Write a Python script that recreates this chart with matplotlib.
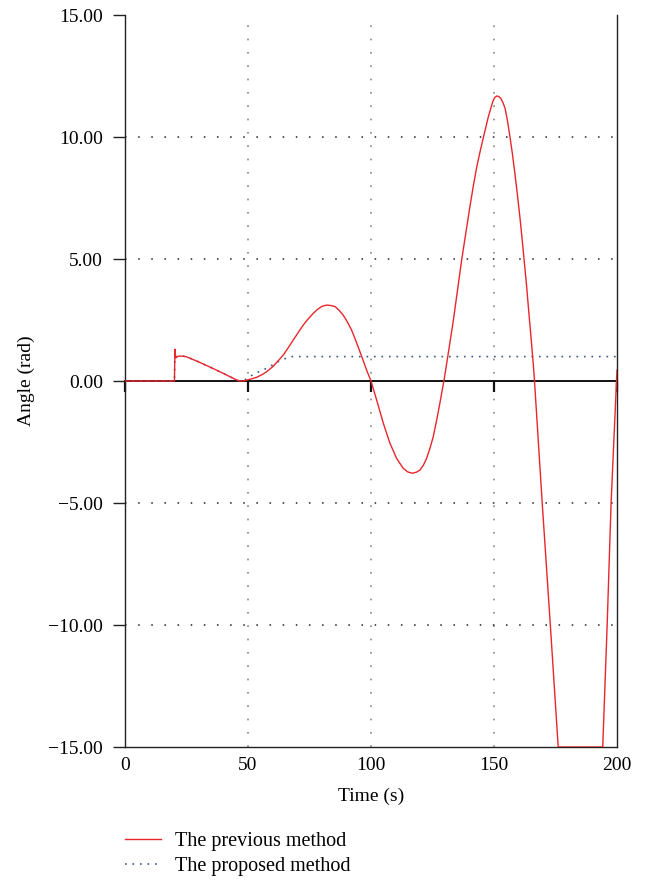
import matplotlib
matplotlib.use("Agg")
import matplotlib.pyplot as plt

# ---------------- data ----------------
prev_t = [0, 20.1, 20.3, 20.6, 21.2, 22, 23.5, 25, 26.5, 30, 35, 40, 45, 46.5, 48, 49.5,
          51.5, 53.5, 55.5, 57.6, 60.3, 62.3, 64.4, 66.4, 68.4, 70.5, 72.5, 74.5, 76.5,
          78.2, 79.9, 81, 82.2, 83.8, 85.4, 87, 88.7, 90.4, 92.1, 93.8, 95.5, 96.9, 98.2,
          100, 102.3, 105, 107.7, 110.4, 113.1, 115, 116.8, 118.4, 119.9, 121.3, 122.6,
          124, 125.3, 126.7, 128, 129.7, 131.2, 133.5, 135.2, 136.9, 138.6, 140.2, 141.6,
          143.0, 144.4, 145.7, 147.7, 149.5, 150.3, 151.1, 151.9, 152.7, 153.6, 154.5,
          155.5, 156.5, 157.5, 158.5, 159.5, 160.6, 161.5, 162.3, 163.2, 164.0, 165.0,
          166.0, 166.4, 169.6, 172.9, 176.1, 194.2, 196.0, 197.6, 200]
prev_v = [0, 0, 1.3, 0.95, 1.0, 1.02, 1.02, 0.99, 0.93, 0.78, 0.55, 0.31, 0.06, 0.0, 0.0, 0.04,
          0.09, 0.15, 0.25, 0.38, 0.61, 0.83, 1.07, 1.37, 1.68, 2.0, 2.3, 2.55, 2.77,
          2.93, 3.05, 3.09, 3.11, 3.09, 3.05, 2.9, 2.7, 2.42, 2.09, 1.66, 1.2, 0.82, 0.45,
          0.0, -0.78, -1.73, -2.55, -3.17, -3.58, -3.73, -3.78, -3.74, -3.65, -3.45, -3.17,
          -2.75, -2.28, -1.6, -0.91, 0.04, 1.0, 2.5, 3.75, 4.99, 6.1, 7.14, 8.0,
          8.78, 9.43, 9.99, 10.83, 11.45, 11.62, 11.68, 11.66, 11.59, 11.42, 11.18,
          10.65, 10.0, 9.3, 8.5, 7.65, 6.65, 5.75, 4.9, 3.95, 3.0, 1.85,
          0.65, 0.1, -5.0, -10.0, -15.0, -15.0, -10.0, -5.0, 0.45]

prop_t = [0, 20.1, 20.3, 20.6, 21.2, 22, 23.5, 25, 26.5, 30, 35, 40, 45, 46.5, 48, 49.5,
          52.8, 57.6, 62.3, 67.1, 200]
prop_v = [0, 0, 1.3, 0.95, 1.0, 1.02, 1.02, 0.99, 0.93, 0.78, 0.55, 0.31, 0.06, 0.0, 0.0, 0.1,
          0.31, 0.52, 0.8, 1.0, 1.0]

x_ticks = [0, 50, 100, 150, 200]
y_ticks = [-15, -10, -5, 0, 5, 10, 15]
x_grid = [50, 100, 150]
y_grid = [-10, -5, 5, 10]

labels = ["The previous method", "The proposed method"]

# ---------------- figure ----------------
plt.rcParams['font.family'] = ['Liberation Serif', 'DejaVu Serif']
plt.rcParams['axes.unicode_minus'] = True

fig = plt.figure(figsize=(6.47, 8.85), dpi=100)
ax = fig.add_axes([125/647, 1-747/885, (617-125)/647, (747-15)/885])

ax.set_xlim(0, 200)
ax.set_ylim(-15, 15)

for gx in x_grid:
    ax.axvline(gx, color='#888888', lw=1.2, ls=(0, (1.0, 7.0)), zorder=0)
for gy in y_grid:
    ax.axhline(gy, color='#222222', lw=1.1, ls=(0, (1.0, 7.6)), zorder=0)

l1, = ax.plot(prev_t, prev_v, color='#e8262b', lw=1.0, zorder=3)
l2, = ax.plot(prop_t, prop_v, color='#3c5a8a', lw=1.2, ls=(0, (1.0, 3.5)), zorder=2)

ax.spines['top'].set_visible(False)
for s in ['left', 'right', 'bottom']:
    ax.spines[s].set_color('#222222')
    ax.spines[s].set_linewidth(1.0)

ax.set_xticks(x_ticks)
ax.set_xticklabels([str(v) for v in x_ticks])
ax.set_yticks(y_ticks)
ax.set_yticklabels([f"{v:.2f}".replace('-', '\u2212') for v in y_ticks])
ax.tick_params(axis='x', length=0, pad=7, labelsize=14)
ax.tick_params(axis='y', direction='out', length=9, width=1.0, pad=7, labelsize=14,
               color='#222222')

# zero axis with ticks
sec = ax.secondary_xaxis(0.5)
sec.xaxis.set_ticks_position('bottom')
sec.set_xticks(x_ticks)
sec.set_xticklabels([])
sec.tick_params(axis='x', direction='out', length=8, width=1.6, labelbottom=False,
                labeltop=False, color='#111111')
for s in ['bottom', 'top']:
    sec.spines[s].set_linewidth(1.4)
    sec.spines[s].set_color('#111111')

ax.set_xlabel("Time (s)", fontsize=14)
ax.xaxis.set_label_coords(0.5, -0.055)
ax.set_ylabel("Angle (rad)", fontsize=14)
ax.yaxis.set_label_coords(-0.183, 0.5)

fig.legend([l1, l2], labels, loc='upper left', bbox_to_anchor=(125/647, 1-832/885),
           frameon=False, borderpad=0, borderaxespad=0, fontsize=14.5,
           handlelength=1.8, handletextpad=0.7, labelspacing=0.3)

fig.savefig("out.png", dpi=100)
